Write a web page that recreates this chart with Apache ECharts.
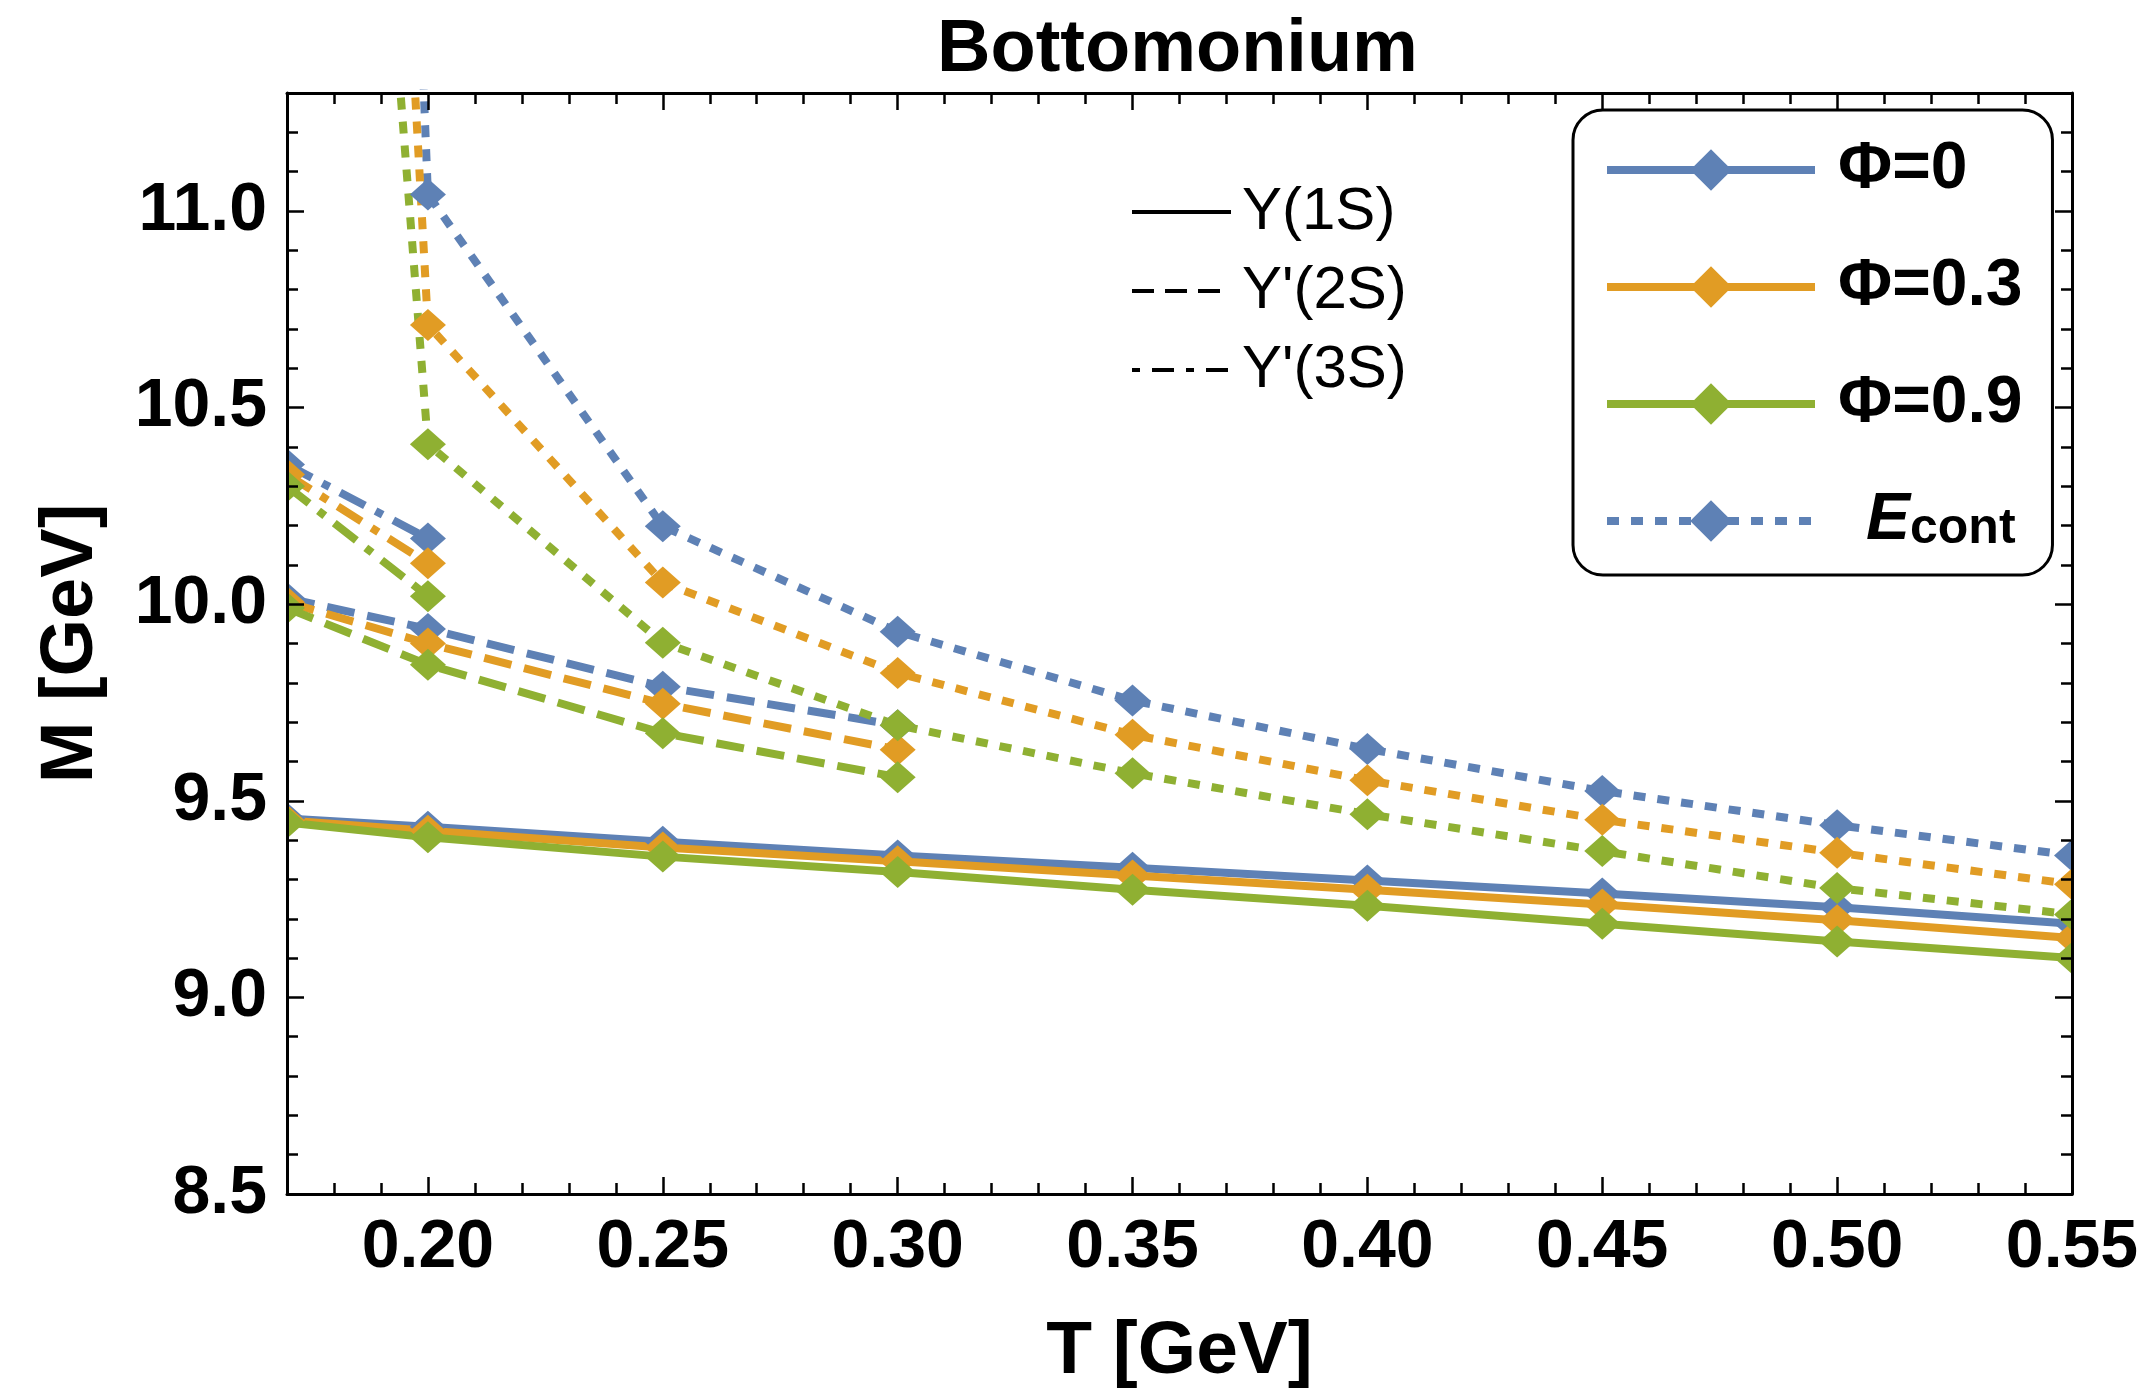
<!DOCTYPE html>
<html><head><meta charset="utf-8">
<script src="https://cdn.jsdelivr.net/npm/echarts@6/dist/echarts.min.js"></script>
<style>html,body{margin:0;padding:0;background:#fff}#c{width:2148px;height:1395px}</style>
</head><body><div id="c"></div>
<script>
// ---- data ----
const T   = [0.17, 0.20, 0.25, 0.30, 0.35, 0.40, 0.45, 0.50, 0.55];
const T2S = [0.17, 0.20, 0.25, 0.30];
const T3S = [0.17, 0.20];
const phiNames = ['Φ=0', 'Φ=0.3', 'Φ=0.9'];
const econtName = 'Econt';
const stateNames = ['Υ(1S)', "Υ'(2S)", "Υ'(3S)"];

const M1S_phi0  = [9.455, 9.434, 9.396, 9.361, 9.330, 9.297, 9.264, 9.229, 9.187];
const M1S_phi03 = [9.450, 9.424, 9.381, 9.346, 9.310, 9.274, 9.236, 9.196, 9.151];
const M1S_phi09 = [9.445, 9.407, 9.358, 9.319, 9.274, 9.233, 9.187, 9.142, 9.100];

const M2S_phi0  = [10.015, 9.937, 9.790, 9.692];
const M2S_phi03 = [10.005, 9.900, 9.747, 9.630];
const M2S_phi09 = [9.990, 9.846, 9.672, 9.560];

const M3S_phi0  = [10.355, 10.167];
const M3S_phi03 = [10.330, 10.104];
const M3S_phi09 = [10.300, 10.020];

const Econt_phi0  = [20.0, 11.042, 10.198, 9.930, 9.755, 9.632, 9.525, 9.438, 9.361];
const Econt_phi03 = [17.2, 10.710, 10.055, 9.825, 9.668, 9.552, 9.452, 9.368, 9.288];
const Econt_phi09 = [15.0, 10.407, 9.902, 9.692, 9.570, 9.466, 9.372, 9.278, 9.211];

const xTickLabels = [0.20, 0.25, 0.30, 0.35, 0.40, 0.45, 0.50, 0.55];
const yTickLabels = [8.5, 9.0, 9.5, 10.0, 10.5, 11.0];
const xRange = [0.17, 0.55];
const yRange = [8.5, 11.3];

// ---- styling ----
const colors = ['#5E81B5', '#E19C24', '#8FB032'];
const styles = {
  solid: 'solid',
  dashed: [28, 13],
  dashdot: [28, 12, 8, 12],
  dotted: [12, 12]
};
const FONT = "'Liberation Sans', Arial, Helvetica, sans-serif";

function minorTicks(lo, hi, step) {
  const out = [];
  const n = Math.round((hi - lo) / step);
  for (let i = 0; i <= n; i++) out.push(+(lo + i * step).toFixed(4));
  return out;
}
const xMinor = minorTicks(0.18, 0.54, 0.01);
const yMinor = minorTicks(8.6, 11.2, 0.1);

function pairs(xs, ys) { return xs.map((x, i) => [x, ys[i]]); }

const black = '#000';
function axisCommon(range, pos, ticks, len, showLine) {
  return {
    type: 'value', position: pos, min: range[0], max: range[1], z: 60,
    axisLine: { show: showLine, onZero: false, lineStyle: { color: black, width: 3 } },
    axisTick: { show: true, inside: true, length: len, customValues: ticks, lineStyle: { color: black, width: 2.5 } },
    axisLabel: { show: false },
    splitLine: { show: false }
  };
}

const xMain = axisCommon(xRange, 'bottom', xTickLabels, 17, true);
xMain.axisLabel = {
  show: true, customValues: xTickLabels, formatter: v => v.toFixed(2), margin: 20,
  fontSize: 68, fontWeight: 'bold', fontFamily: FONT, color: black
};
xMain.name = 'T [GeV]';
xMain.nameLocation = 'middle';
xMain.nameGap = 121;
xMain.nameTextStyle = { fontSize: 75, fontWeight: 'bold', fontFamily: FONT, color: black };

const yMain = axisCommon(yRange, 'left', yTickLabels, 17, true);
yMain.axisLabel = {
  show: true, customValues: yTickLabels, formatter: v => v.toFixed(1), margin: 20,
  fontSize: 68, fontWeight: 'bold', fontFamily: FONT, color: black, padding: [0, 0, 8, 0]
};
yMain.name = 'M [GeV]';
yMain.nameLocation = 'middle';
yMain.nameGap = 178;
yMain.nameTextStyle = { fontSize: 74, fontWeight: 'bold', fontFamily: FONT, color: black };

const series = [];
const groups = [
  { xs: T,   ys: [M1S_phi0, M1S_phi03, M1S_phi09], type: 'solid' },
  { xs: T2S, ys: [M2S_phi0, M2S_phi03, M2S_phi09], type: 'dashed' },
  { xs: T3S, ys: [M3S_phi0, M3S_phi03, M3S_phi09], type: 'dashdot' },
  { xs: T,   ys: [Econt_phi0, Econt_phi03, Econt_phi09], type: 'dotted' }
];
groups.forEach((g, gi) => {
  g.ys.forEach((ys, ci) => {
    let name = phiNames[ci];
    if (gi === 3 && ci === 0) name = econtName;
    series.push({
      type: 'line', name: name, data: pairs(g.xs, ys),
      symbol: 'diamond', symbolSize: [36, 32], showSymbol: true, clip: true,
      lineStyle: { color: colors[ci], width: 8, type: styles[g.type], cap: 'butt' },
      itemStyle: { color: colors[ci] },
      emphasis: { disabled: true }, animation: false, z: 3
    });
  });
});
// style-only entries for the line-type key
const keyTypes = ['solid', [22, 11], [8, 12, 22, 12]];
stateNames.forEach((nm, i) => {
  series.push({
    type: 'line', name: nm, data: [], symbol: 'none',
    lineStyle: { color: black, width: 4, type: keyTypes[i] },
    itemStyle: { color: black, opacity: 0 }
  });
});

const option = {
  animation: false,
  backgroundColor: '#fff',
  title: {
    text: 'Bottomonium', left: 937, top: 14, padding: 0,
    textStyle: { fontSize: 74, fontWeight: 'bold', fontFamily: FONT, color: black }
  },
  grid: { left: 287, right: 76, top: 93, bottom: 198, containLabel: false },
  xAxis: [
    xMain,
    axisCommon(xRange, 'bottom', xMinor, 11, false),
    axisCommon(xRange, 'top', xTickLabels, 17, true),
    axisCommon(xRange, 'top', xMinor, 11, false)
  ],
  yAxis: [
    yMain,
    axisCommon(yRange, 'left', yMinor, 11, false),
    axisCommon(yRange, 'right', yTickLabels, 17, true),
    axisCommon(yRange, 'right', yMinor, 11, false)
  ],
  // white strips just outside the frame so edge markers look clipped by the frame
  graphic: [
    { type: 'rect', z: 50, silent: true, shape: { x: 268, y: 60, width: 18, height: 1170 }, style: { fill: '#fff' } },
    { type: 'rect', z: 50, silent: true, shape: { x: 2074, y: 60, width: 30, height: 1136 }, style: { fill: '#fff' } }
  ],
  legend: [
    {
      data: [phiNames[0], phiNames[1], phiNames[2], econtName],
      orient: 'vertical', left: 1573, top: 110, padding: [27, 30, 21, 30],
      itemWidth: 208, itemHeight: 52, itemGap: 51,
      borderColor: black, borderWidth: 3, borderRadius: 30, backgroundColor: '#fff',
      selectedMode: false, z: 70,
      lineStyle: { width: 8 },
      formatter: n => n === econtName ? '{e|E}{s|cont}' : n,
      textStyle: {
        fontSize: 66, fontWeight: 'bold', fontFamily: FONT, color: black,
        padding: [0, 0, 0, 18],
        rich: {
          e: { fontSize: 66, fontWeight: 'bold', fontStyle: 'italic', fontFamily: FONT, color: black, padding: [0, 0, 0, 28], lineHeight: 66 },
          s: { fontSize: 50, fontWeight: 'bold', fontFamily: FONT, color: black, verticalAlign: 'bottom', lineHeight: 36 }
        }
      }
    },
    {
      data: stateNames,
      orient: 'vertical', left: 1130, top: 182, padding: 0,
      itemWidth: 99, itemHeight: 4, itemGap: 19,
      selectedMode: false, z: 70,
      lineStyle: { width: 4 },
      itemStyle: { opacity: 0 },
      textStyle: { fontSize: 60, fontFamily: FONT, color: black, padding: [0, 0, 0, 6], lineHeight: 60 }
    }
  ],
  series: series
};

const chart = echarts.init(document.getElementById('c'), null, { renderer: 'canvas' });
chart.setOption(option);
</script>
</body></html>
